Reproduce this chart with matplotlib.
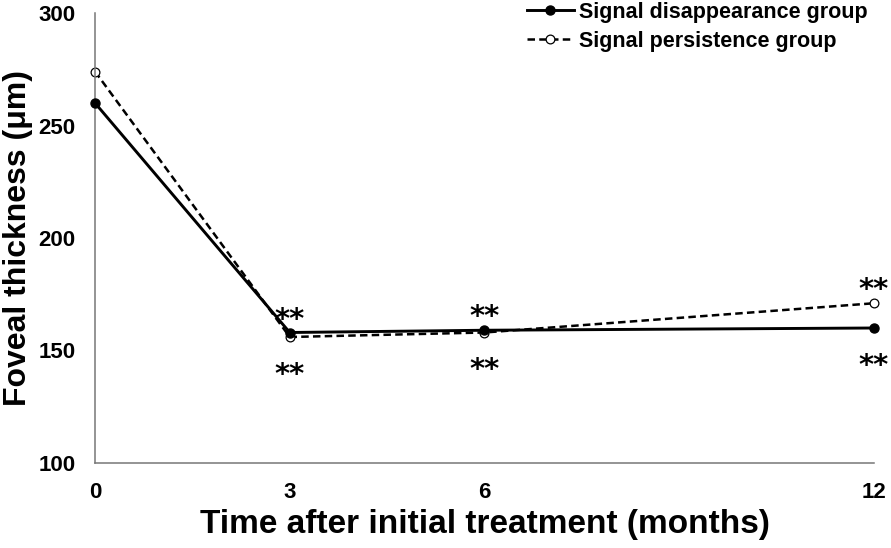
import matplotlib
matplotlib.use('Agg')
from matplotlib import pyplot as plt
from matplotlib.lines import Line2D

months = [0, 3, 6, 12]
disappearance = [260, 158, 159, 160]
persistence = [274, 156, 158, 171]
star_labels = ['**', '**', '**', '**']
y_ticks = [100, 150, 200, 250, 300]
x_ticks = [0, 3, 6, 12]

plt.rcParams['font.family'] = ['Liberation Sans', 'DejaVu Sans']

fig = plt.figure(figsize=(8.91, 5.48), dpi=100)
ax = fig.add_axes([95/891, 85/548, 779/891, 450/548])

solid_style = dict(color='black', lw=2.1, marker='o', ms=6.5, mfc='black', mec='black')
dash_style = dict(color='black', lw=1.8, ls=(0, (3, 1.7)), marker='o', ms=6.3,
                  mfc='white', mec='black', mew=0.9)

ax.plot(months, disappearance, clip_on=False, zorder=3, **solid_style)
ax.plot(months, persistence, clip_on=False, zorder=2, **dash_style)

# significance marks above the upper point and below the lower point
for x, a, b, s in zip(months[1:], disappearance[1:], persistence[1:], star_labels[1:]):
    ax.annotate(s, (x, max(a, b)), xytext=(0, 5), textcoords='offset pixels',
                ha='center', va='baseline', fontsize=21, fontweight='bold',
                family='DejaVu Sans')
    ax.annotate(s, (x, min(a, b)), xytext=(0, -46), textcoords='offset pixels',
                ha='center', va='baseline', fontsize=21, fontweight='bold',
                family='DejaVu Sans')

ax.set_xlim(0, 12)
ax.set_ylim(100, 300)
ax.set_xticks(x_ticks)
ax.set_yticks(y_ticks)
ax.tick_params(length=0, labelsize=16, pad=14)
for lab in ax.get_xticklabels() + ax.get_yticklabels():
    lab.set_fontweight('bold')

for side in ['top', 'right']:
    ax.spines[side].set_visible(False)
for side in ['left', 'bottom']:
    ax.spines[side].set_color('#777777')
    ax.spines[side].set_linewidth(1.1)

ax.set_xlabel('Time after initial treatment (months)', fontsize=24,
              fontweight='bold', labelpad=4)
ax.set_ylabel('Foveal thickness (μm)', fontsize=23, fontweight='bold',
              va='center')
ax.yaxis.set_label_coords(-77/779, 0.5)

handles = [Line2D([], [], **solid_style), Line2D([], [], **dash_style)]
fig.legend(handles, ['Signal disappearance group', 'Signal persistence group'],
           loc='upper right', bbox_to_anchor=(868/891, 1 - 2/548),
           frameon=False, borderpad=0, borderaxespad=0, handlelength=2.2,
           handletextpad=0.25, labelspacing=0.35,
           prop={'weight': 'bold', 'size': 15.5})

fig.savefig('out.png', dpi=100)
